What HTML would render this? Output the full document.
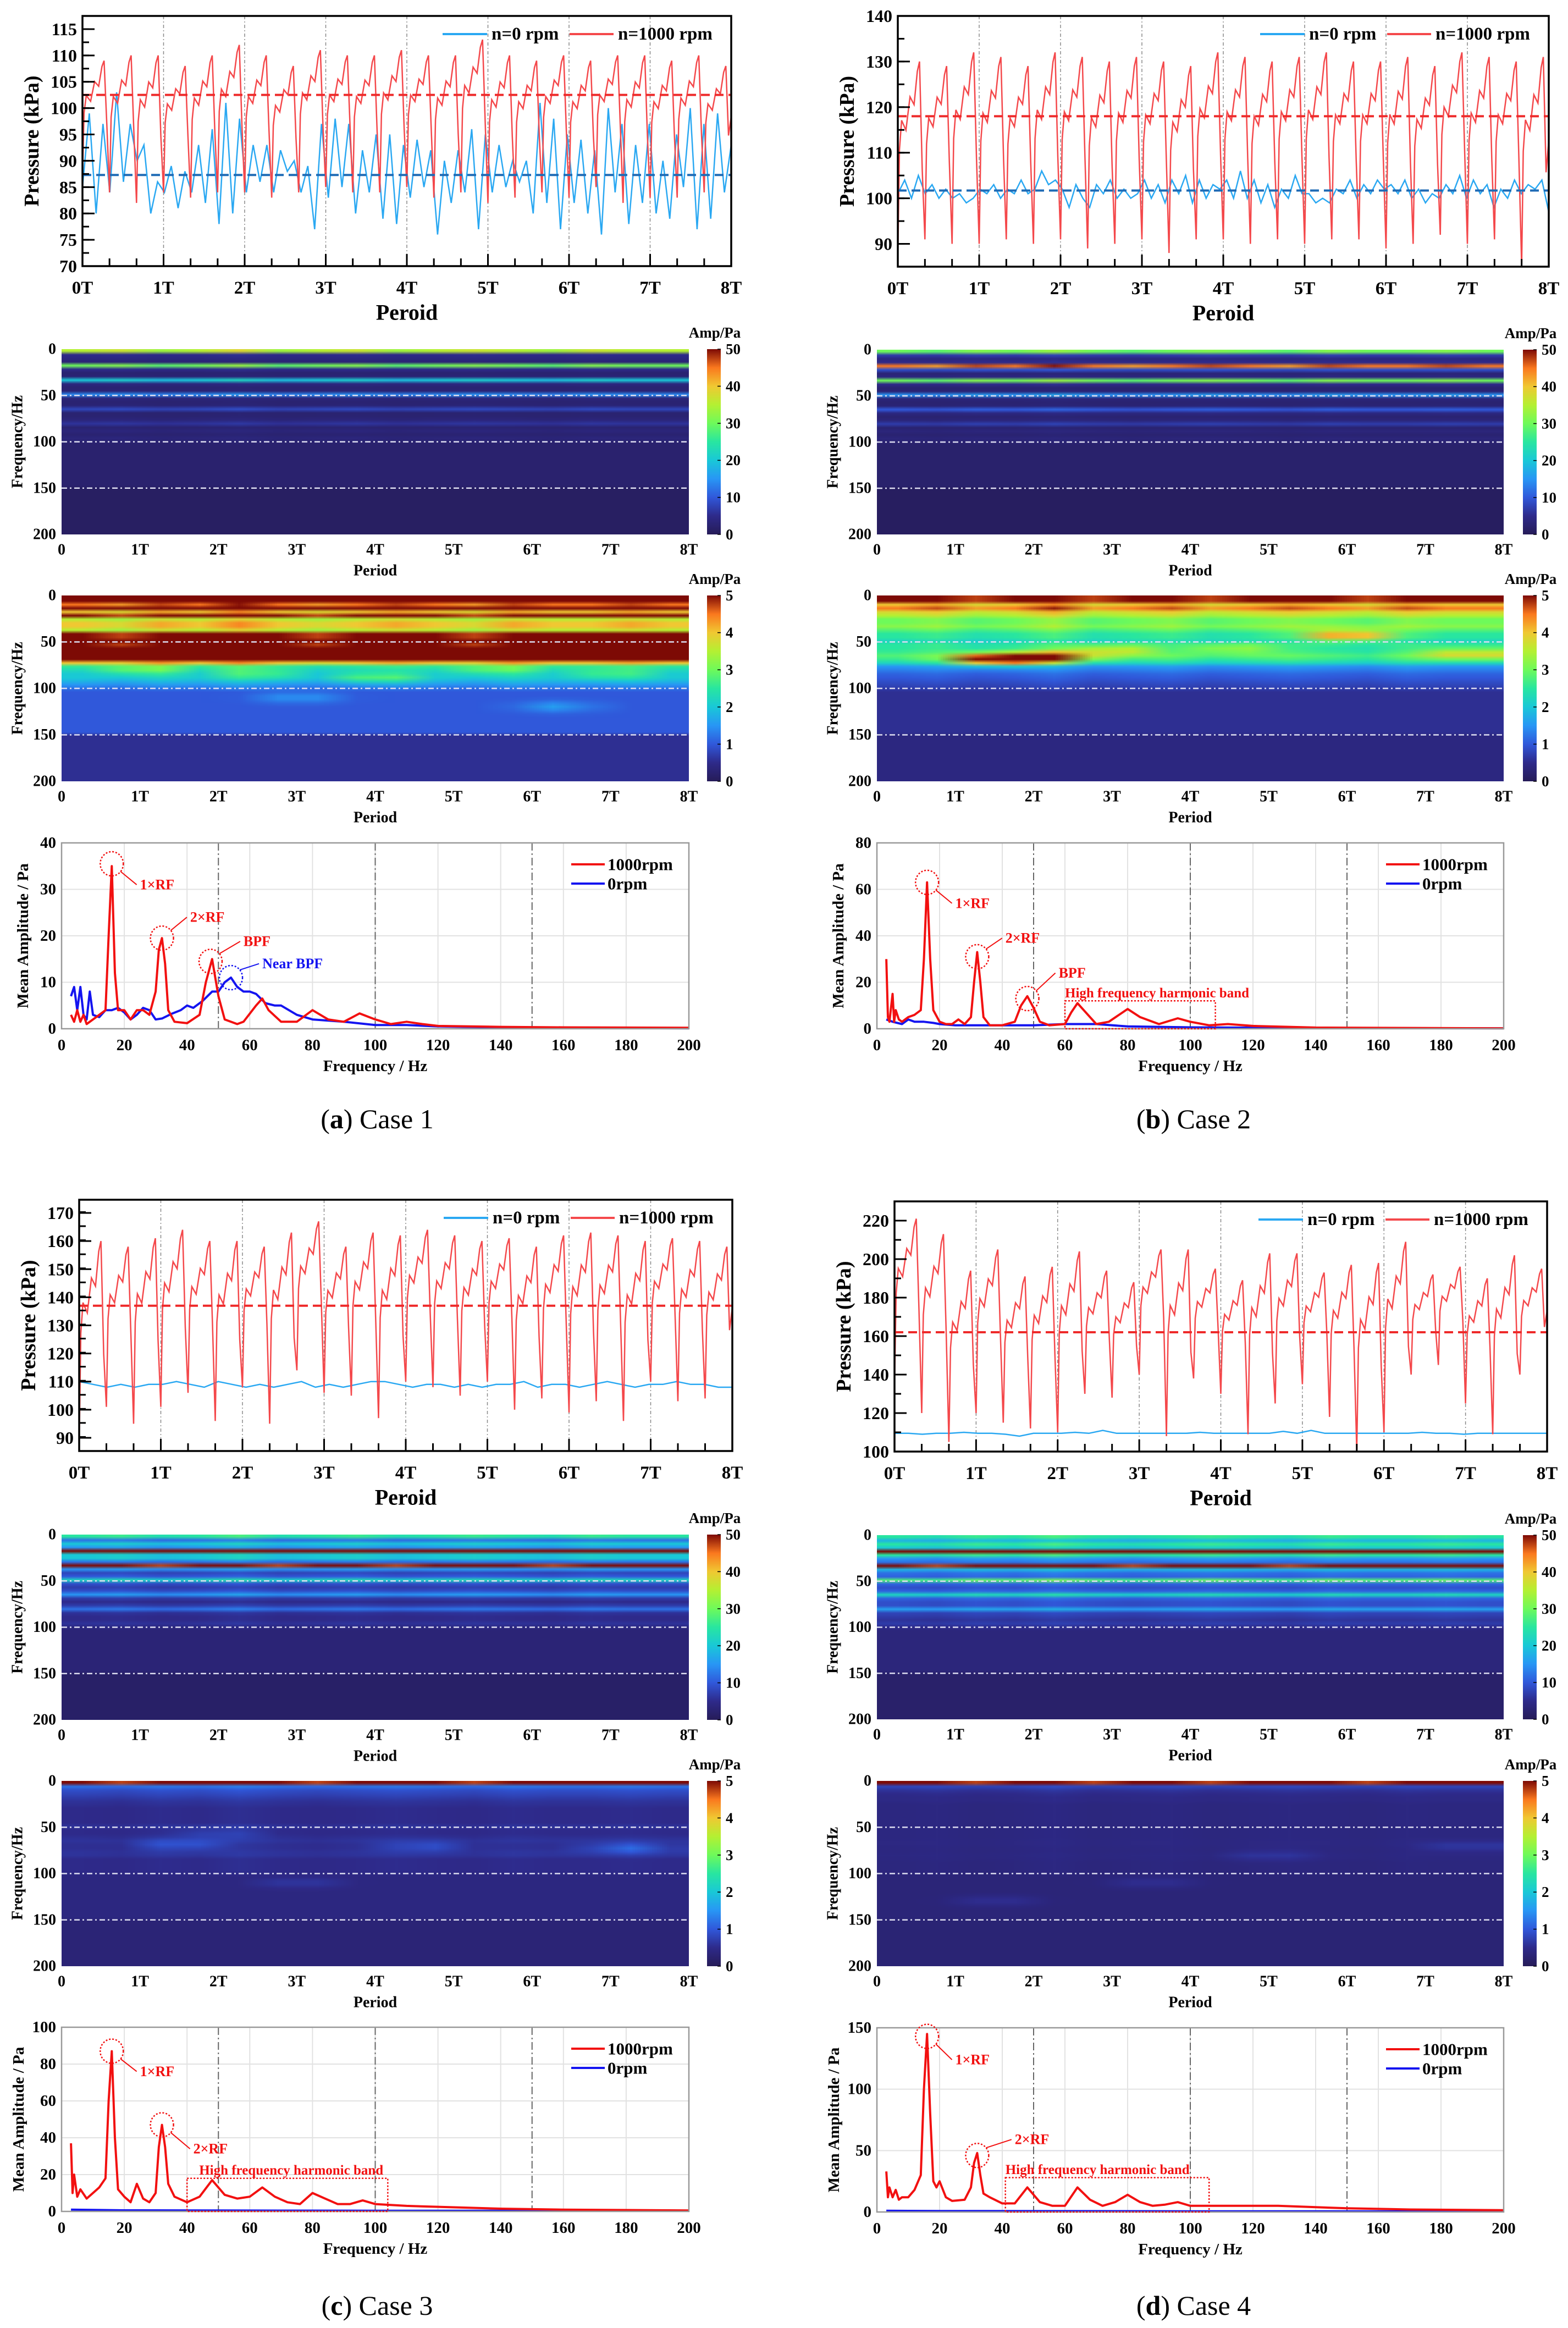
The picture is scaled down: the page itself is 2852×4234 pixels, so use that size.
<!DOCTYPE html>
<html><head><meta charset="utf-8">
<style>
html,body{margin:0;padding:0;background:#fff;}
#wrap{position:relative;width:2852px;height:4234px;overflow:hidden;background:#fff;}
canvas{position:absolute;image-rendering:auto;}
#fig{position:absolute;left:0;top:0;}
text{font-family:"Liberation Serif",serif;}
</style></head>
<body>
<div id="wrap">
<svg id="fig" width="2852" height="4234" viewBox="0 0 2852 4234"></svg>
</div>
<script>
// ---------- Pressure data (per cycle peaks/troughs, kPa) ----------
const redPeaksA=[109,110,110,108,110,112,110,108,111,110,110,111,110,110,113,110,109,110,109,110,110,109,110,108];
const redTroughsA=[87,84,82,84,83,84,84,83,84,85,84,84,85,83,84,82,83,84,83,85,82,83,83,84];
const bluePressA=[85,99,80,97,84,103,86,97,90,93,80,86,84,89,81,88,84,93,82,96,78,101,80,98,84,93,86,93,84,92,88,90,84,89,77,97,83,98,85,97,80,92,84,95,79,95,78,93,83,94,85,92,76,90,82,92,84,96,77,95,84,93,85,90,86,90,80,101,82,98,77,95,82,94,80,92,76,100,84,97,78,93,82,97,80,90,79,95,85,100,77,97,79,99,84,93];
const redPeaksB=[130,129,132,131,129,132,131,130,131,130,129,132,131,130,131,132,130,130,131,129,132,131,130,131];
const redTroughsB=[87,91,90,90,91,90,91,89,90,91,88,91,91,90,91,90,91,91,89,90,92,90,91,85];
const bluePressB=[101,104,100,105,101,103,100,102,100,101,99,100,102,101,103,100,102,101,104,101,102,106,103,104,102,98,103,100,98,103,101,104,100,102,100,101,104,100,103,99,104,101,105,99,104,100,103,102,104,100,106,100,104,99,103,98,102,100,105,101,101,99,100,99,102,101,104,100,103,101,104,102,103,101,104,100,102,99,101,100,103,101,105,100,104,101,103,98,102,100,104,101,103,102,104,97];
const redPeaksC=[160,158,161,164,160,160,158,163,167,158,163,162,164,162,160,161,158,162,163,162,160,161,160,158];
const redTroughsC=[87,101,95,101,106,96,108,95,114,106,105,97,110,108,105,110,100,104,99,103,96,110,103,104];
const bluePressC=[110,109,108,109,108,109,109,110,109,108,110,109,108,109,108,109,110,108,109,108,109,110,110,109,108,109,109,108,109,108,109,109,110,108,109,109,108,109,110,109,108,109,109,110,109,109,108,108];
const redPeaksD=[221,213,194,205,191,196,204,194,188,205,205,195,189,203,203,193,197,198,209,192,196,190,202,195];
const redTroughsD=[135,120,105,120,115,112,110,130,128,140,108,138,130,109,125,135,118,100,110,140,145,125,109,140];
const bluePressD=[109.5,109.5,109,109.5,109.5,110,109.5,109.5,109,108,109.5,109.5,109.5,110,109.5,111,109.5,109.5,109.5,109.5,109.5,109.5,110,109.5,109.5,109.5,109.5,109.5,110.5,109.5,111,109.5,109.5,109.5,109.5,109.5,109.5,109.5,110,109.5,109.5,109,109.5,109.5,109.5,109.5,109.5,109.5];
const meanRed=[102.5,118,137,162];
const meanBlue=[87.3,101.7,null,null];
const periodTicks=["0T","1T","2T","3T","4T","5T","6T","7T","8T"];
const specTicks=["0","1T","2T","3T","4T","5T","6T","7T","8T"];

// ---------- Spectrogram data (amplitude profile at 0,4,...,200 Hz) ----------
const tail=(a,n)=>Array(n).fill(a);
const profA1=[35,5,4,3,30,5,2.5,3,20,4,2.5,3,14,3.5,2.5,3,8,2.5,2.5,3.5,6,2.5,3.5,2.5,3.5,2.5].concat(tail(2.2,12),tail(1,13));
const profA2=[6,6,4.5,6,4,5,3.5,4,4,3.5,5,5,6,5,6,6,6,6,4,2.5,2.2,2,2,1.8,1.5,1.2].concat(tail(1,12),tail(0.55,13));
const profB1=[30,7,4,5,45,9,3,4,30,5,2.5,3,15,3.5,2.5,3,10,4,2.5,3.5,7,2.5,3.5,2.5,3.5,2.5].concat(tail(2,12),tail(0.8,13));
const profB2=[5,5,4,4.5,3.8,3.5,3,3,3.2,2.8,2.5,2.5,2.2,2.5,2.5,2.6,2.8,2.6,2.2,1.5,1.3,1.1,1,0.9,0.8,0.7].concat(tail(0.55,12),tail(0.4,13));
const profC1=[25,12,20,15,55,20,20,12,50,15,8,10,22,9,7,9,15,7,5,7,12,6,5,5,6,4].concat(tail(3,12),tail(1.5,13));
const profC2=[5,1.2,0.9,0.8,0.7,0.6,0.55,0.5,0.5,0.5,0.5,0.5,0.6,0.5,0.5,0.55,0.6,0.55,0.55,0.6,0.6,0.5,0.5,0.5,0.5,0.45].concat(tail(0.4,12),tail(0.3,13));
const profD1=[25,18,25,20,55,25,15,12,50,18,12,11,28,11,9,11,22,11,9,9,16,8,7,6,7,5].concat(tail(3.5,12),tail(1.8,13));
const profD2=[5,0.8,0.6,0.5,0.45,0.45,0.4,0.4,0.4,0.4,0.4,0.4,0.4,0.4,0.4,0.4,0.42,0.42,0.4,0.4,0.42,0.4,0.38,0.38,0.38,0.35].concat(tail(0.32,12),tail(0.28,13));
const colModA=[1,1.05,0.95,1,1.1,0.95,1,1.05,0.95,1,1.05,1,0.95,1.05,1,1];
const colModB=[1,0.95,1.05,1,1.1,1,0.95,1,1.05,1,0.95,1.05,1,1,1.05,1];
const blobsA2T=[1,2.5,4,5.5,7,3,6.3],blobsA2F=[80,84,88,80,84,110,120],blobsA2A=[1,0.8,1,0.9,0.8,0.6,0.6];
const blobsB2T=[1.5,2.2,6,7.5,3,4.5],blobsB2F=[68,66,42,62,58,56],blobsB2A=[4,3,2.5,1.5,1.5,1];
const blobsC2T=[1.5,4.6,7.2,2,3],blobsC2F=[68,70,72,56,110],blobsC2A=[0.5,0.4,0.6,0.3,0.3];
const blobsD2T=[1.5,3.5,5,7.5],blobsD2F=[130,110,80,70],blobsD2A=[0.3,0.3,0.25,0.3];
const noBlobs=[];

// ---------- Spectrum data ----------
const fA_r=[3,4,5,6,7,8,10,12,14,15,16,17,18,20,22,24,26,28,30,31,32,33,34,36,40,44,46,48,50,52,56,58,62,64,66,70,75,80,85,90,95,100,105,110,115,120,140,160,200];
const aA_r=[3,1.5,4,1.5,3,1,2,3,4,20,35,12,4,4,2,4,4,3,8,17,19.5,14,4,1.5,1.2,3,10,15,7,2,1,1.5,5,6.5,4,1.5,1.5,4,2,1.5,3.3,2,1,1.5,1,0.6,0.4,0.3,0.2];
const fA_b=[3,4,5,6,7,8,9,10,12,14,16,18,20,22,24,26,28,30,32,35,38,40,42,45,48,50,52,54,56,58,60,62,65,68,70,75,80,90,100,110,120,140,160,200];
const aA_b=[7,9,4,9,3,2,8,3,2.5,4,4,4.5,3.5,2,3,4.5,4,2,2.2,3.2,4,5,4.5,6,8,8,10,11,9,8,8,7.5,5.5,5,5,3,2,1.5,0.8,0.8,0.5,0.3,0.2,0.1];
const fB_r=[3,3.5,4,5,5.5,6,7,8,10,12,14,15,16,17,18,20,22,24,26,28,30,31,32,33,34,36,40,44,46,48,50,52,55,60,62,64,66,70,74,80,84,90,96,100,106,112,120,140,200];
const aB_r=[30,5,3,15,3,8,4,3,5,6,8,30,63,30,8,3,2,2,4,2,5,20,33,20,5,1.5,1.5,3,10,14,9,3,1.5,2,7,11,8,2,3,8.5,5,2,4.5,3,1.5,2,1.2,0.5,0.2];
const fB_b=[3,5,8,10,12,15,18,20,25,30,40,50,60,65,70,80,100,140,200];
const aB_b=[4,3,2,4,3,3,2.5,2,1.5,1.5,1.5,1.5,2,2,2,1,0.6,0.3,0.2];
const fC_r=[3,3.5,4,5,6,8,10,12,14,15,16,17,18,20,22,24,26,28,30,31,32,33,34,36,40,44,48,52,56,60,64,68,72,76,80,84,88,92,96,100,110,120,140,160,200];
const aC_r=[37,10,20,8,12,7,10,13,18,60,87,40,12,8,5,15,7,5,10,35,47,35,15,8,5,8,17,9,7,8,13,8,5,4,10,7,4,4,6,4,3,2.5,1.5,1,0.5];
const fC_b=[3,10,20,50,100,200];
const aC_b=[1,0.8,0.6,0.5,0.4,0.3];
const fD_r=[3,3.5,4,5,6,7,8,10,12,14,15,16,17,18,19,20,22,24,28,30,31,32,33,34,36,40,44,48,52,56,60,64,68,72,76,80,84,88,92,96,100,112,128,150,170,200];
const aD_r=[33,12,20,12,18,10,12,12,18,30,100,145,80,25,20,25,12,9,10,20,40,48,30,15,12,7,7,20,8,5,5,20,10,5,8,14,8,5,6,8,5,5,5,3,2,1.5];
const fD_b=[3,20,60,100,200];
const aD_b=[1,0.8,0.7,0.6,0.5];

// ---------- helpers ----------
const NS='http://www.w3.org/2000/svg';
const svg=document.getElementById('fig');
function mk(tag,attrs,parent,name){
  const e=document.createElementNS(NS,tag);
  for(const k in attrs) e.setAttribute(k,attrs[k]);
  
  
  (parent||svg).appendChild(e);
  return e;
}
function txt(x,y,s,size,opts,name){
  opts=opts||{};
  const t=mk('text',{x:x,y:y,'font-size':size,'font-weight':opts.w||'bold','text-anchor':opts.a||'middle','dominant-baseline':'central',fill:opts.fill||'#000'},opts.parent,name);
  if(opts.rot) t.setAttribute('transform','rotate(-90 '+x+' '+y+')');
  t.textContent=s;
  return t;
}
function lin(d0,d1,r0,r1){return v=>r0+(v-d0)/(d1-d0)*(r1-r0);}

// ---------- pressure chart ----------
const TPL_PH=[0,0.06,0.14,0.3,0.45,0.6,0.72,0.8,0.9];
const TPL_LV=[0,0.55,0.7,0.65,0.82,0.78,0.95,1.0,0.45];
function pressure(g,peaks,troughs,blue,mr,mb,ymin,ymax,ticks,minorStep){
  const G=mk('g',{},svg,'pressure-chart');
  const X=lin(0,8,g.l,g.r), Y=lin(ymin,ymax,g.b,g.t);
  for(let i=1;i<8;i++) mk('line',{x1:X(i),x2:X(i),y1:g.t,y2:g.b,stroke:'#888','stroke-width':1.5,'stroke-dasharray':'6 4 2 4'},G,'period-gridline');
  let pts=blue.map((v,i)=>X(i*8/(blue.length-1)).toFixed(1)+','+Y(v).toFixed(1)).join(' ');
  mk('polyline',{points:pts,fill:'none',stroke:'#2aa8f2','stroke-width':2.5},G,'series-n0rpm');
  const n=peaks.length, cyc=8/n, rp=[];
  for(let c=0;c<n;c++){
    const tr=troughs[c], pk=peaks[c];
    for(let k=0;k<TPL_PH.length;k++){
      const t=(c+TPL_PH[k])*cyc; rp.push(X(t).toFixed(1)+','+Y(tr+(pk-tr)*TPL_LV[k]).toFixed(1));
    }
  }
  rp.push(X(8)+','+Y(troughs[n-1]+(peaks[n-1]-troughs[n-1])*0.6).toFixed(1));
  mk('polyline',{points:rp.join(' '),fill:'none',stroke:'#f4484b','stroke-width':2.5},G,'series-n1000rpm');
  if(mb!==null) mk('line',{x1:g.l,x2:g.r,y1:Y(mb),y2:Y(mb),stroke:'#1f6bb5','stroke-width':4,'stroke-dasharray':'16 9'},G,'mean-line-0rpm');
  mk('line',{x1:g.l,x2:g.r,y1:Y(mr),y2:Y(mr),stroke:'#ee2a2a','stroke-width':4,'stroke-dasharray':'16 9'},G,'mean-line-1000rpm');
  mk('rect',{x:g.l,y:g.t,width:g.r-g.l,height:g.b-g.t,fill:'none',stroke:'#000','stroke-width':3.5},G,'plot-frame');
  for(let i=0;i<=24;i++){const x=X(i/3);const len=i%3===0?22:14;
    mk('line',{x1:x,x2:x,y1:g.b,y2:g.b-len,stroke:'#000','stroke-width':3},G,'x-tick');}
  periodTicks.forEach((s,i)=>txt(X(i),g.b+40,s,33,{parent:G},'x-tick-label'));
  txt((g.l+g.r)/2,g.b+84,'Peroid',40,{parent:G},'x-axis-title');
  for(let v=ymin;v<=ymax+0.01;v+=minorStep){const y=Y(v);if(y<g.t)continue;
    mk('line',{x1:g.l,x2:g.l+12,y1:y,y2:y,stroke:'#000','stroke-width':3},G,'y-minor-tick');}
  ticks.forEach(v=>{const y=Y(v);mk('line',{x1:g.l,x2:g.l+22,y1:y,y2:y,stroke:'#000','stroke-width':3},G,'y-tick');
    txt(g.l-10,y,String(v),32,{a:'end',parent:G},'y-tick-label');});
  txt(g.l-(ticks[ticks.length-1]>=100?92:78),(g.t+g.b)/2,'Pressure (kPa)',38,{rot:1,parent:G},'y-axis-title');
  const ly=g.t+33;
  mk('line',{x1:g.r-525,x2:g.r-444,y1:ly,y2:ly,stroke:'#2aa8f2','stroke-width':4},G,'legend-line-0rpm');
  txt(g.r-436,ly,'n=0 rpm',33,{a:'start',parent:G},'legend-label-0rpm');
  mk('line',{x1:g.r-294,x2:g.r-214,y1:ly,y2:ly,stroke:'#f4484b','stroke-width':4},G,'legend-line-1000rpm');
  txt(g.r-206,ly,'n=1000 rpm',33,{a:'start',parent:G},'legend-label-1000rpm');
}

// ---------- spectrogram ----------
const CMAP=[[0,38,28,88],[0.1,46,42,138],[0.2,48,88,218],[0.3,40,150,245],[0.4,25,200,215],[0.5,40,230,160],[0.6,110,250,90],[0.7,180,240,50],[0.8,240,200,50],[0.9,250,120,30],[1,125,10,5]];
function cmap(v){v=Math.max(0,Math.min(1,v));
  for(let i=1;i<CMAP.length;i++){if(v<=CMAP[i][0]){const a=CMAP[i-1],b=CMAP[i],t=(v-a[0])/(b[0]-a[0]);
    return [a[1]+(b[1]-a[1])*t,a[2]+(b[2]-a[2])*t,a[3]+(b[3]-a[3])*t];}}return CMAP[CMAP.length-1].slice(1);}
function spectro(g,prof,colMod,bT,bF,bA,vmax,cbx){
  const G=mk('g',{},svg,'spectrogram');
  const cols=colMod.length, rows=prof.length;
  const cv=document.createElement('canvas');
  cv.width=cols;cv.height=rows;
  cv.style.left=g.l+'px';cv.style.top=g.t+'px';cv.style.width=(g.r-g.l)+'px';cv.style.height=(g.b-g.t)+'px';
  
  
  document.getElementById('wrap').insertBefore(cv,svg);
  const ctx=cv.getContext('2d');const im=ctx.createImageData(cols,rows);
  for(let r=0;r<rows;r++)for(let c=0;c<cols;c++){
    const t=(c+0.5)*8/cols, f=r*4;
    let v=prof[r]*(r<26?colMod[c]:1);
    for(let k=0;k<bT.length;k++){const dt=(t-bT[k])/0.45,df=(f-bF[k])/6;v+=bA[k]*Math.exp(-(dt*dt+df*df));}
    const col=cmap(v/vmax),p=(r*cols+c)*4;
    im.data[p]=col[0];im.data[p+1]=col[1];im.data[p+2]=col[2];im.data[p+3]=255;}
  ctx.putImageData(im,0,0);
  const X=lin(0,8,g.l,g.r),Y=lin(0,200,g.t,g.b);
  [50,100,150].forEach(f=>mk('line',{x1:g.l,x2:g.r,y1:Y(f),y2:Y(f),stroke:'#dcdcf0','stroke-width':2.5,'stroke-dasharray':'10 5 3 5'},G,'frequency-guide-line'));
  [0,50,100,150,200].forEach(f=>txt(g.l-10,Y(f),String(f),28,{a:'end',parent:G},'y-tick-label'));
  specTicks.forEach((s,i)=>txt(X(i),g.b+28,s,28,{parent:G},'x-tick-label'));
  txt((g.l+g.r)/2,g.b+66,'Period',28,{parent:G},'x-axis-title');
  txt(g.l-80,(g.t+g.b)/2,'Frequency/Hz',28,{rot:1,parent:G},'y-axis-title');
  const defs=mk('defs',{},G,'defs');const id='cb'+Math.round(g.t)+Math.round(g.l);
  const lg=mk('linearGradient',{id:id,x1:0,y1:1,x2:0,y2:0},defs,'colorbar-gradient');
  CMAP.forEach(s=>mk('stop',{offset:s[0],'stop-color':'rgb('+s[1]+','+s[2]+','+s[3]+')'},lg,'gradient-stop'));
  mk('rect',{x:cbx,y:g.t,width:25,height:g.b-g.t,fill:'url(#'+id+')'},G,'colorbar');
  const CY=lin(0,vmax,g.b,g.t);
  for(let i=0;i<=5;i++){const v=vmax*i/5;txt(cbx+34,CY(v),String(v),27,{a:'start',parent:G},'colorbar-tick-label');
    mk('line',{x1:cbx+19,x2:cbx+25,y1:CY(v),y2:CY(v),stroke:'#000','stroke-width':1.5},G,'colorbar-tick');}
  txt(cbx+14,g.t-30,'Amp/Pa',27,{parent:G},'colorbar-title');
}

// ---------- spectrum ----------
function spectrum(g,fr,ar,fb,ab,ymax,ystep,ann,hf){
  const G=mk('g',{},svg,'spectrum-chart');
  const X=lin(0,200,g.l,g.r),Y=lin(0,ymax,g.b,g.t);
  for(let f=20;f<200;f+=20) mk('line',{x1:X(f),x2:X(f),y1:g.t,y2:g.b,stroke:'#e2e2e2','stroke-width':2},G,'grid-line');
  for(let v=ystep;v<ymax;v+=ystep) mk('line',{x1:g.l,x2:g.r,y1:Y(v),y2:Y(v),stroke:'#e2e2e2','stroke-width':2},G,'grid-line');
  [50,100,150].forEach(f=>mk('line',{x1:X(f),x2:X(f),y1:g.t,y2:g.b,stroke:'#666','stroke-width':2,'stroke-dasharray':'14 5 3 5'},G,'frequency-marker-line'));
  mk('polyline',{points:fb.map((f,i)=>X(f).toFixed(1)+','+Y(ab[i]).toFixed(1)).join(' '),fill:'none',stroke:'#1414f0','stroke-width':4,'stroke-linejoin':'round'},G,'series-0rpm');
  mk('polyline',{points:fr.map((f,i)=>X(f).toFixed(1)+','+Y(ar[i]).toFixed(1)).join(' '),fill:'none',stroke:'#f21010','stroke-width':4,'stroke-linejoin':'round'},G,'series-1000rpm');
  mk('rect',{x:g.l,y:g.t,width:g.r-g.l,height:g.b-g.t,fill:'none',stroke:'#999','stroke-width':2.5},G,'plot-frame');
  for(let f=0;f<=200;f+=20) txt(X(f),g.b+30,String(f),29,{parent:G},'x-tick-label');
  for(let v=0;v<=ymax;v+=ystep) txt(g.l-10,Y(v),String(v),29,{a:'end',parent:G},'y-tick-label');
  txt((g.l+g.r)/2,g.b+68,'Frequency / Hz',29,{parent:G},'x-axis-title');
  txt(g.l-(ymax>=100?78:70),(g.t+g.b)/2,'Mean Amplitude / Pa',29,{rot:1,parent:G},'y-axis-title');
  mk('line',{x1:g.r-214,x2:g.r-153,y1:g.t+39,y2:g.t+39,stroke:'#f21010','stroke-width':4},G,'legend-line-1000rpm');
  txt(g.r-148,g.t+39,'1000rpm',31,{a:'start',parent:G},'legend-label-1000rpm');
  mk('line',{x1:g.r-214,x2:g.r-153,y1:g.t+74,y2:g.t+74,stroke:'#1414f0','stroke-width':4},G,'legend-line-0rpm');
  txt(g.r-148,g.t+74,'0rpm',31,{a:'start',parent:G},'legend-label-0rpm');
  ann.forEach(a=>{const cx=X(a[0]),cy=Y(a[1]),col=a[5]||'#f21010';
    mk('ellipse',{cx:cx,cy:cy,rx:21,ry:22,fill:'none',stroke:col,'stroke-width':2.5,'stroke-dasharray':'3 3'},G,'peak-highlight-circle');
    const tx=X(a[2]),ty=Y(a[3]);
    mk('line',{x1:cx+16,x2:tx-6,y1:cy+(ty>cy?14:-14),y2:ty,stroke:col,'stroke-width':2},G,'annotation-leader');
    txt(tx,ty,a[4],26,{a:'start',fill:col,parent:G},'peak-annotation');});
  if(hf){mk('rect',{x:X(hf[0]),y:Y(hf[2]),width:X(hf[1])-X(hf[0]),height:Y(0)-Y(hf[2]),fill:'none',stroke:'#f21010','stroke-width':2.5,'stroke-dasharray':'3 3'},G,'harmonic-band-box');
    txt(X(hf[0])+(hf[3]||0),Y(hf[2])-14,'High frequency harmonic band',25,{a:'start',fill:'#f21010',parent:G},'harmonic-band-label');}
}

// ---------- layout ----------
pressure({l:150,r:1330,t:29,b:484},redPeaksA,redTroughsA,bluePressA,meanRed[0],meanBlue[0],70,117.5,[70,75,80,85,90,95,100,105,110,115],2.5);
pressure({l:1633,r:2817,t:29,b:485},redPeaksB,redTroughsB,bluePressB,meanRed[1],meanBlue[1],85,140,[90,100,110,120,130,140],5);
pressure({l:144,r:1332,t:2182,b:2639},redPeaksC,redTroughsC,bluePressC,meanRed[2],meanBlue[2],85.3,174.7,[90,100,110,120,130,140,150,160,170],5);
pressure({l:1627,r:2814,t:2185,b:2640},redPeaksD,redTroughsD,bluePressD,meanRed[3],meanBlue[3],100,230,[100,120,140,160,180,200,220],10);

spectro({l:112,r:1253,t:635,b:972},profA1,colModA,noBlobs,noBlobs,noBlobs,50,1286);
spectro({l:112,r:1253,t:1083,b:1421},profA2,colModB,blobsA2T,blobsA2F,blobsA2A,5,1286);
spectro({l:1595,r:2735,t:636,b:972},profB1,colModB,noBlobs,noBlobs,noBlobs,50,2770);
spectro({l:1595,r:2735,t:1083,b:1421},profB2,colModA,blobsB2T,blobsB2F,blobsB2A,5,2770);
spectro({l:112,r:1253,t:2791,b:3128},profC1,colModA,noBlobs,noBlobs,noBlobs,50,1286);
spectro({l:112,r:1253,t:3239,b:3576},profC2,colModB,blobsC2T,blobsC2F,blobsC2A,5,1286);
spectro({l:1595,r:2735,t:2792,b:3127},profD1,colModB,noBlobs,noBlobs,noBlobs,50,2770);
spectro({l:1595,r:2735,t:3239,b:3576},profD2,colModA,blobsD2T,blobsD2F,blobsD2A,5,2770);

spectrum({l:112,r:1253,t:1533,b:1871},fA_r,aA_r,fA_b,aA_b,40,10,
  [[16,35.5,25,31,'1×RF'],[32,19.5,41,24,'2×RF'],[47.5,14.5,58,18.8,'BPF'],[54,11,64,14,'Near BPF','#1414f0']],null);
spectrum({l:1595,r:2735,t:1533,b:1871},fB_r,aB_r,fB_b,aB_b,80,20,
  [[16,63,25,54,'1×RF'],[32,31,41,39,'2×RF'],[48,13,58,24,'BPF']],[60,108,12,0]);
spectrum({l:112,r:1253,t:3687,b:4022},fC_r,aC_r,fC_b,aC_b,100,20,
  [[16,87,25,76,'1×RF'],[32,47,42,34,'2×RF']],[40,104,18,22]);
spectrum({l:1595,r:2735,t:3688,b:4023},fD_r,aD_r,fD_b,aD_b,150,50,
  [[16,143,25,124,'1×RF'],[32,46,44,59,'2×RF']],[41,106,28,0]);

[[686,2035,'a','Case 1'],[2171,2035,'b','Case 2'],[686,4193,'c','Case 3'],[2171,4193,'d','Case 4']].forEach(c=>{
  const t=mk('text',{x:c[0],y:c[1],'font-size':50,'text-anchor':'middle','dominant-baseline':'central'},svg,'panel-caption');
  const s1=mk('tspan',{},t,'caption-paren');s1.textContent='(';
  const s2=mk('tspan',{'font-weight':'bold'},t,'caption-letter');s2.textContent=c[2];
  const s3=mk('tspan',{},t,'caption-text');s3.textContent=') '+c[3];
});
</script>
</body></html>
